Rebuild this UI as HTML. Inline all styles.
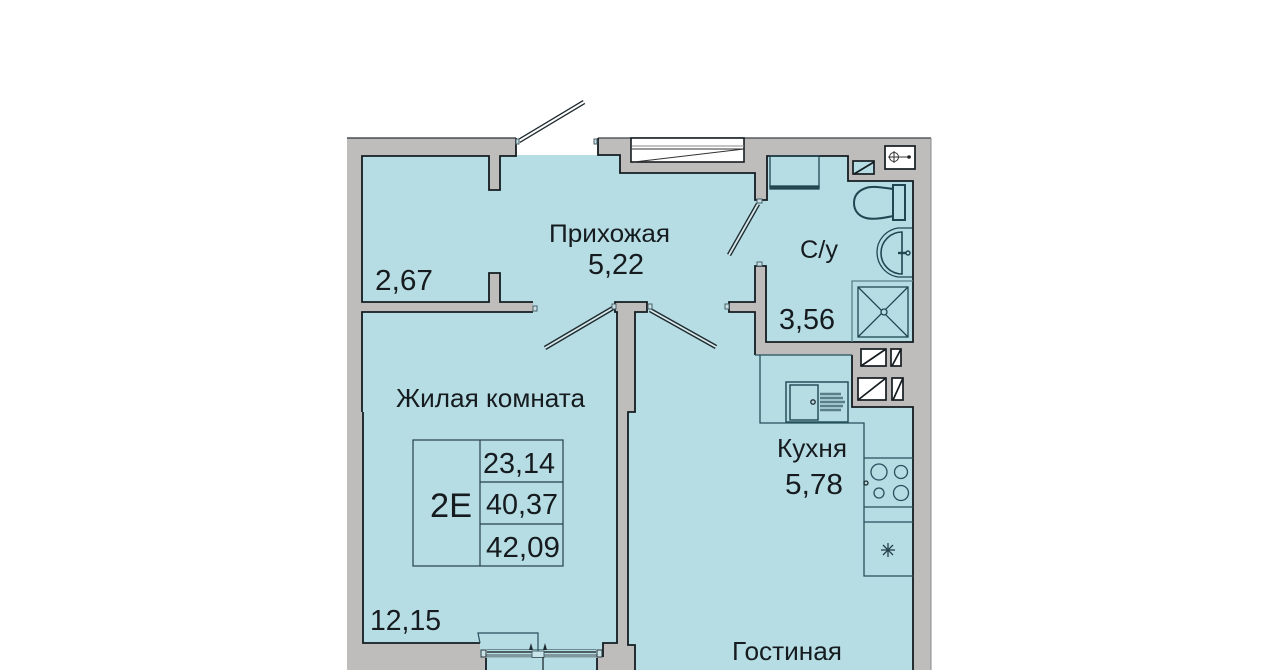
<!DOCTYPE html>
<html><head><meta charset="utf-8"><style>
html,body{margin:0;padding:0;background:#fff;width:1280px;height:670px;overflow:hidden}
svg{display:block;filter:blur(.35px)}
text{font-family:"Liberation Sans",sans-serif;fill:#151b1f}
</style></head><body>
<svg width="1280" height="670" viewBox="0 0 1280 670" xmlns="http://www.w3.org/2000/svg">
<rect width="1280" height="670" fill="#fff"/>
<!-- walls -->
<rect x="347" y="138" width="584" height="532" fill="#bfbcbc"/>
<rect x="516" y="136" width="82" height="20" fill="#fff"/>
<!-- floor -->
<polygon fill="#b6dde3" points="362,156 489,156 489,190 500,190 500,156 516,156 516,155 598,155 620,155 620,173 755,173 755,200 767,200 767,156 848,156 848,181 913,181 913,342 766,342 766,266 755,266 755,302 729,302 729,312 755,312 755,355 852,355 852,407 913,407 913,670 635,670 635,645 628,645 628,412 635,412 635,312 647,312 647,302 615,302 615,312 617,312 617,643 603,643 603,657 597,657 597,670 486,670 486,657 480,657 480,643 362,643 362,312 533,312 533,302 500,302 500,273 489,273 489,302 362,302"/>
<!-- wall outlines -->
<line x1="347" y1="138" x2="516" y2="138" stroke="#2a3034" stroke-width="1.3"/>
<line x1="598" y1="138" x2="931" y2="138" stroke="#3a4044" stroke-width="1.2"/>
<line x1="931" y1="138" x2="931" y2="670" stroke="#8a8a8c" stroke-width="1"/>
<g fill="none" stroke="#141c20" stroke-width="1.8">
<polyline points="516,138 516,156 500,156 500,190 489,190 489,156 362,156 362,302 489,302 489,273 500,273 500,302 533,302"/>
<polyline points="533,312 362,312 362,412"/>
<polyline points="598,138 598,155 620,155 620,173 755,173 755,200 767,200 767,156 848,156 848,181 913,181 913,342 766,342 766,266 755,266 755,302 729,302 729,312 755,312 755,355"/>
<polyline points="852,355 852,407 913,407 913,670"/>
<polyline points="617,412 617,312 615,312 615,302 647,302 647,312 635,312 635,412 628,412 628,645 635,645 635,670"/>
<polyline points="363,412 363,643 480,643"/>
<polyline points="617,412 617,643 603,643 603,657"/>
<polyline points="486,658 486,670"/>
<polyline points="597,658 597,670"/>
</g>
<line x1="755" y1="355" x2="852" y2="355" stroke="#26505c" stroke-width="1.3"/>
<!-- entry door -->
<line x1="519" y1="141" x2="584" y2="102" stroke="#1f2a2e" stroke-width="4.6"/>
<line x1="519" y1="141" x2="584" y2="102" stroke="#fff" stroke-width="2"/>
<!-- room doors -->
<g>
<line x1="545" y1="348" x2="613" y2="308" stroke="#1f2a2e" stroke-width="4.6"/>
<line x1="545" y1="348" x2="613" y2="308" stroke="#d6eaee" stroke-width="1.8"/>
<line x1="650" y1="310" x2="716" y2="347" stroke="#1f2a2e" stroke-width="4.6"/>
<line x1="650" y1="310" x2="716" y2="347" stroke="#d6eaee" stroke-width="1.8"/>
<line x1="758" y1="204" x2="729" y2="255" stroke="#1f2a2e" stroke-width="4.6"/>
<line x1="758" y1="204" x2="729" y2="255" stroke="#d6eaee" stroke-width="1.8"/>
</g>
<g fill="#c9dfe3" stroke="#48616a" stroke-width="1">
<rect x="612" y="304" width="4" height="5"/><rect x="648" y="304" width="4" height="5"/>
<rect x="757" y="199" width="5" height="4"/><rect x="757" y="262" width="5" height="4"/>
<rect x="725" y="304" width="4" height="5"/><rect x="533" y="306" width="4" height="5"/>
<rect x="516" y="139" width="3" height="5"/><rect x="594" y="139" width="3" height="5"/>
</g>
<!-- top window -->
<rect x="631" y="138" width="113" height="24" fill="#fff" stroke="#141c20" stroke-width="1.6"/>
<line x1="632" y1="146" x2="744" y2="146" stroke="#888" stroke-width="1"/>
<polyline points="632,149 744,149 634,162" stroke="#333" stroke-width="1" fill="none"/>
<!-- bathroom fixtures -->
<g fill="none" stroke="#1f4752" stroke-width="1.3">
<rect x="770" y="156" width="49" height="31"/>
<rect x="770" y="186" width="49" height="3" fill="#2a4650"/>
<rect x="893" y="185" width="12" height="35" stroke-width="2"/>
<path d="M893,189 C880,187 872,186 866,188 C857,191 854,197 854,203 C854,210 858,216 866,218 C873,220 884,218 893,216" stroke-width="2"/>
<path d="M912,228 L898,228 C886,230 877,240 877,252 C877,265 886,275 898,277 L912,277"/>
<path d="M902,232 A21,21 0 0 0 902,274 Z" stroke-width="1.6"/>
<line x1="898" y1="253" x2="906" y2="253" stroke-width="2.4"/>
<circle cx="908" cy="253" r="2" stroke-width="1.4"/>
<polyline points="913,281 852,281 852,342" stroke="#5a8088"/>
<rect x="858" y="287" width="50" height="50"/>
<line x1="858" y1="287" x2="908" y2="337"/>
<line x1="908" y1="287" x2="858" y2="337"/>
<circle cx="884" cy="312" r="3" fill="#b6dde3"/>
</g>
<!-- shafts -->
<g stroke="#141c20" stroke-width="1.7" fill="#fff">
<rect x="853" y="161" width="21" height="13" fill="#b6dde3"/>
<line x1="854" y1="174" x2="874" y2="162"/>
<rect x="885" y="146" width="30" height="23"/>
<rect x="861" y="349" width="25" height="17"/><line x1="861" y1="366" x2="886" y2="349"/>
<rect x="891" y="349" width="10" height="17"/><line x1="892" y1="366" x2="901" y2="349"/>
<rect x="858" y="378" width="28" height="22"/><line x1="858" y1="400" x2="886" y2="378"/>
<rect x="892" y="378" width="11" height="22"/><line x1="893" y1="400" x2="903" y2="378"/>
</g>
<g fill="none" stroke="#333" stroke-width="1">
<circle cx="894" cy="157" r="4.5"/><line x1="888" y1="157" x2="911" y2="157"/><line x1="894" y1="151" x2="894" y2="163"/>
</g>
<circle cx="909" cy="157" r="1.8" fill="#222"/>
<!-- kitchen -->
<g fill="none" stroke="#26505c" stroke-width="1.3">
<polyline points="760,355 760,423 864,423 864,576 913,576"/>
<line x1="864" y1="458" x2="913" y2="458"/>
<line x1="864" y1="507" x2="913" y2="507"/>
<line x1="864" y1="522" x2="913" y2="522"/>
<rect x="786" y="382" width="62" height="40" stroke-width="1.5"/>
<rect x="790" y="385" width="28" height="35" stroke-width="1.5"/>
<circle cx="813" cy="402" r="2.2" stroke="#1f2b30"/>
<circle cx="879" cy="472" r="8"/>
<circle cx="901" cy="472" r="6.5"/>
<circle cx="879" cy="493" r="5"/>
<circle cx="901" cy="493" r="7.5"/>
<circle cx="866" cy="483" r="2" stroke="#1f2b30"/>
<g stroke="#26404a"><line x1="881" y1="550" x2="895" y2="550"/><line x1="888" y1="543" x2="888" y2="557"/><line x1="883" y1="545" x2="893" y2="555"/><line x1="893" y1="545" x2="883" y2="555"/></g>
</g>
<g stroke="#5a7f88" stroke-width="2.6">
<line x1="820" y1="394" x2="841" y2="394"/><line x1="820" y1="398" x2="843" y2="398"/><line x1="820" y1="402" x2="845" y2="402"/><line x1="820" y1="406" x2="843" y2="406"/><line x1="820" y1="410" x2="841" y2="410"/>
</g>
<!-- bottom balcony window -->
<rect x="486" y="654" width="111" height="3.5" fill="#7f979d"/>
<line x1="487" y1="652" x2="596" y2="652" stroke="#2a3438" stroke-width="1.4"/>
<line x1="487" y1="649.5" x2="596" y2="649.5" stroke="#6a8a92" stroke-width="1"/>
<rect x="532" y="651" width="12" height="6.5" fill="#c9e4e9" stroke="#48616a" stroke-width="1"/>
<rect x="481" y="650" width="5" height="7" fill="#c9e4e9" stroke="#2a3438" stroke-width="1"/>
<rect x="597" y="650" width="5" height="7" fill="#c9e4e9" stroke="#2a3438" stroke-width="1"/>
<polyline points="480,643 478,633 538,633 538,651" fill="none" stroke="#26505c" stroke-width="1.2"/>
<line x1="543" y1="657" x2="543" y2="670" stroke="#1f2b30" stroke-width="1.3"/>
<polygon points="529,650 531,643 533,650" fill="#1f2b30"/>
<polygon points="543,650 545,643 547,650" fill="#1f2b30"/>
<!-- info box -->
<g fill="none" stroke="#26404a" stroke-width="1.2">
<rect x="413" y="440" width="150" height="126"/>
<line x1="480" y1="440" x2="480" y2="566"/>
<line x1="480" y1="482" x2="563" y2="482"/>
<line x1="480" y1="524" x2="563" y2="524"/>
</g>
<!-- labels -->
<text x="549" y="242" font-size="25.3" textLength="121" lengthAdjust="spacingAndGlyphs">Прихожая</text>
<text x="588" y="274" font-size="29" textLength="56" lengthAdjust="spacingAndGlyphs">5,22</text>
<text x="375" y="290" font-size="29" textLength="58" lengthAdjust="spacingAndGlyphs">2,67</text>
<text x="800" y="258" font-size="25" textLength="38" lengthAdjust="spacingAndGlyphs">С/у</text>
<text x="779" y="329" font-size="29" textLength="56" lengthAdjust="spacingAndGlyphs">3,56</text>
<text x="396" y="407" font-size="26" textLength="189" lengthAdjust="spacingAndGlyphs">Жилая комната</text>
<text x="483" y="473" font-size="28.5" textLength="72" lengthAdjust="spacingAndGlyphs">23,14</text>
<text x="486" y="514" font-size="28.5" textLength="72" lengthAdjust="spacingAndGlyphs">40,37</text>
<text x="486" y="557" font-size="29" textLength="74" lengthAdjust="spacingAndGlyphs">42,09</text>
<text x="430" y="517" font-size="34" textLength="42" lengthAdjust="spacingAndGlyphs">2E</text>
<text x="370" y="630" font-size="28.4" textLength="71" lengthAdjust="spacingAndGlyphs">12,15</text>
<text x="777" y="457" font-size="26" textLength="70" lengthAdjust="spacingAndGlyphs">Кухня</text>
<text x="785" y="494" font-size="29" textLength="58" lengthAdjust="spacingAndGlyphs">5,78</text>
<text x="732" y="660" font-size="25.8" textLength="110" lengthAdjust="spacingAndGlyphs">Гостиная</text>
</svg>
</body></html>
